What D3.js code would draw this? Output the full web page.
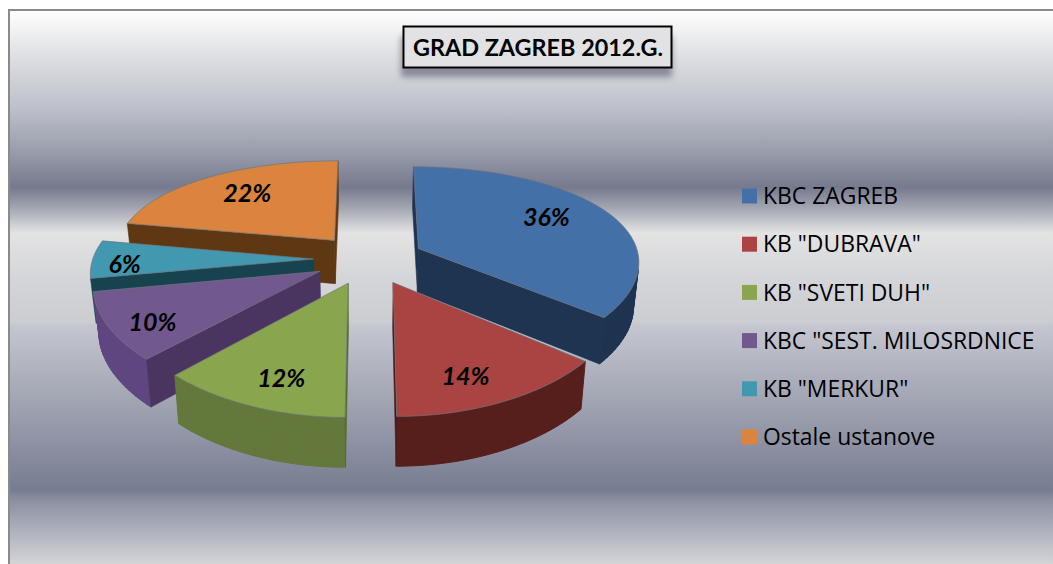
<!DOCTYPE html>
<html>
<head>
<meta charset="utf-8">
<script src="https://cdn.jsdelivr.net/npm/d3@7"></script>
<style>
  html, body { margin: 0; padding: 0; background: #fff; overflow: hidden; }
  svg { display: block; }
  text { font-family: Lato, "Open Sans", sans-serif; fill: #000; }
</style>
</head>
<body>
<svg id="chart" width="1053" height="564"></svg>
<script>
const chartTitle = "GRAD ZAGREB 2012.G."
const categories = ["KBC ZAGREB", 'KB "DUBRAVA"', 'KB "SVETI DUH"', 'KBC "SEST. MILOSRDNICE', 'KB "MERKUR"', "Ostale ustanove"]
const shares = [36, 14, 12, 10, 6, 22]
const topColors = ["#4470a8", "#a94442", "#89a54e", "#71588f", "#4198af", "#db843d"]
const rimColors = ["#1e3350", "#571f1c", "#63783a", "#5f4680", "#2a6a7c", "#8a5420"]
const cutColors = ["#1f3451", "#4a1a18", "#566a31", "#4a3560", "#17434f", "#5e3812"]

// background bands of the plot, top to bottom
const bandY = [10, 60, 110, 150, 187, 192, 210, 233, 280, 322, 325, 400, 450, 490, 500, 530, 564]
const bandColor = ["#ffffff", "#dcdde0", "#bcbfc9", "#9a9eac", "#757a8d", "#7f8395", "#a8abb5", "#e3e3e3", "#d4d5d8", "#cccdd0", "#c4c7d0", "#a2a5b2", "#8a8ea0", "#777c90", "#8b8fa0", "#aeb0bb", "#d3d4d6"]

const width = 1053
const height = 564
const svg = d3.select("#chart")
const defs = svg.append("defs")

const bg = defs.append("linearGradient").attr("id", "bg")
  .attr("gradientUnits", "userSpaceOnUse")
  .attr("x1", 0).attr("x2", 0).attr("y1", 10).attr("y2", 564)
const bandOffset = d3.scaleLinear().domain([10, 564]).range([0, 1])
bg.selectAll("stop").data(bandY).join("stop")
  .attr("offset", (d) => bandOffset(d))
  .attr("stop-color", (d, i) => bandColor[i])

defs.append("filter").attr("id", "soft")
  .attr("x", "-10%").attr("y", "-30%").attr("width", "120%").attr("height", "160%")
  .append("feGaussianBlur").attr("stdDeviation", 3)

// plot frame, open on the right and at the bottom
svg.append("rect").attr("x", 9).attr("y", 10).attr("width", width).attr("height", height)
  .attr("fill", "url(#bg)").attr("stroke", "#8a8a8a").attr("stroke-width", 2)

// title box
svg.append("rect").attr("x", 401).attr("y", 36).attr("width", 271).attr("height", 41)
  .attr("fill", "#55586a").attr("opacity", 0.6).attr("filter", "url(#soft)")
svg.append("rect").attr("x", 403.5).attr("y", 26.5).attr("width", 268).attr("height", 41)
  .attr("fill", "#e2e2e4").attr("stroke", "#000").attr("stroke-width", 2)
svg.append("text").attr("x", 538).attr("y", 55.5).attr("text-anchor", "middle")
  .attr("font-size", 23.4).attr("font-weight", 700).text(chartTitle)

// the tilted pie: ground plane to screen with a simple perspective
const cx = 369
const cy = 259
const radiusX = 221
const radiusY = 100
const tilt = 0.18
const explode = 0.25
const depth = 44

function project(gx, gy, z) {
  const w = 1 - tilt * gy
  const shrink = 1 - 0.02 * z
  return [cx + radiusX * gx / Math.pow(w, 0.65) * shrink, cy + radiusY * gy / w + z * depth / Math.sqrt(w)]
}

const pie = d3.pie().sort(null).value((d) => d)
const arcs = pie(shares)

function wedgePoint(arc, r, angle, z) {
  const mid = (arc.startAngle + arc.endAngle) / 2
  const gx = explode * Math.sin(mid) + r * Math.sin(angle)
  const gy = -explode * Math.cos(mid) - r * Math.cos(angle)
  return project(gx, gy, z)
}

// d3.polygonArea is positive for clockwise rings on a y-down screen
function signedArea(pts) {
  return -d3.polygonArea(pts)
}

const closed = d3.line().curve(d3.curveLinearClosed)

function cutFace(arc, angle) {
  return [wedgePoint(arc, 0, angle, 0), wedgePoint(arc, 1, angle, 0), wedgePoint(arc, 1, angle, 1), wedgePoint(arc, 0, angle, 1)]
}

function rimFaces(arc) {
  const step = Math.PI / 120
  const angles = d3.range(arc.startAngle, arc.endAngle, step).concat(arc.endAngle)
  return d3.pairs(angles)
    .map(([a, b]) => [wedgePoint(arc, 1, a, 0), wedgePoint(arc, 1, b, 0), wedgePoint(arc, 1, b, 1), wedgePoint(arc, 1, a, 1)])
    .filter((pts) => signedArea(pts) < 0)
}

function topFace(arc) {
  const angles = d3.range(arc.startAngle, arc.endAngle, Math.PI / 120).concat(arc.endAngle)
  return [wedgePoint(arc, 0, arc.startAngle, 0)].concat(angles.map((a) => wedgePoint(arc, 1, a, 0)))
}

// back slices first
const paintOrder = [5, 0, 4, 3, 1, 2]
const pieGroup = svg.append("g")

paintOrder.forEach((i) => {
  const arc = arcs[i]
  const slice = pieGroup.append("g")

  slice.selectAll("path.rim").data(rimFaces(arc)).join("path")
    .attr("class", "rim")
    .attr("d", closed)
    .attr("fill", rimColors[i])
    .attr("stroke", rimColors[i])
    .attr("stroke-width", 1)

  const startCut = cutFace(arc, arc.startAngle)
  const endCut = cutFace(arc, arc.endAngle)
  const cuts = []
  if (signedArea(startCut) < 0) cuts.push(startCut)
  if (signedArea(endCut) > 0) cuts.push(endCut)
  slice.selectAll("path.cut").data(cuts).join("path")
    .attr("class", "cut")
    .attr("d", closed)
    .attr("fill", cutColors[i])
    .attr("stroke", cutColors[i])
    .attr("stroke-width", 0.6)

  slice.append("path")
    .attr("d", closed(topFace(arc)))
    .attr("fill", topColors[i])
    .attr("stroke", "#6f7580")
    .attr("stroke-width", 0.7)
})

// data labels: reach along the slice, then a hand nudge per slice
const labelReach = [0.65, 0.75, 0.75, 0.86, 0.86, 0.62]
const labelNudge = [[5, -6], [-9, 9], [4, 8], [13, 4], [1, 5], [-8, -6]]
svg.append("g").selectAll("text").data(arcs).join("text")
  .attr("transform", (d, i) => {
    const mid = (d.startAngle + d.endAngle) / 2
    const p = wedgePoint(d, labelReach[i], mid, 0)
    return `translate(${p[0] + labelNudge[i][0]},${p[1] + labelNudge[i][1]})`
  })
  .attr("text-anchor", "middle")
  .attr("dy", "0.35em")
  .attr("font-size", 25)
  .attr("font-weight", 700)
  .attr("font-style", "italic")
  .text((d) => d.value + "%")

// legend
const legendY = d3.scalePoint().domain(categories).range([196, 437])
const legend = svg.append("g").selectAll("g").data(categories).join("g")
  .attr("transform", (d) => `translate(742,${legendY(d)})`)
legend.append("rect")
  .attr("x", 0).attr("y", -7.5).attr("width", 15).attr("height", 15)
  .attr("fill", (d, i) => topColors[i])
legend.append("text")
  .attr("x", 21).attr("dy", "0.36em")
  .attr("font-size", 22.9)
  .style("font-family", '"Open Sans", sans-serif')
  .attr("fill", "#0a0a0a")
  .text((d) => d)
</script>
</body>
</html>
